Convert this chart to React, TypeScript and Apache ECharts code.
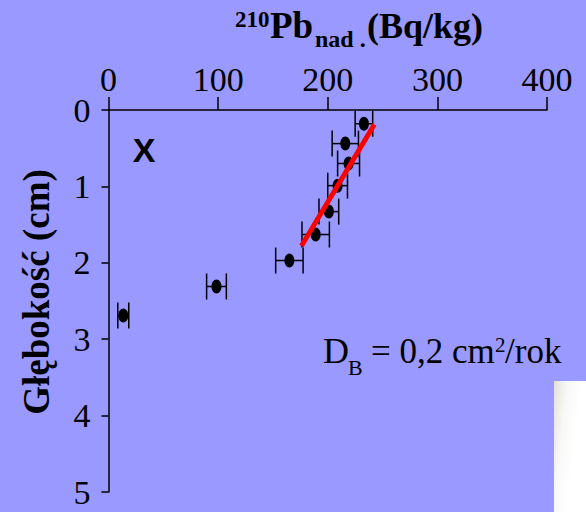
import React, { useEffect, useRef } from "react";
import * as echarts from "echarts";

// Data
const depthCm = [0.18, 0.44, 0.7, 0.99, 1.33, 1.63, 1.97, 2.31, 2.69];
const pbActivity = [233, 216, 219, 209, 201, 189, 165, 98.5, 13.5];
const pbError = [8, 12, 10, 9, 9, 12.5, 12.5, 9, 5];
const fitLine = [
  [176, 1.78],
  [242.5, 0.19],
];
const xTicks = { min: 0, max: 400, interval: 100 };
const yTicks = { min: 0, max: 5, interval: 1 };

const BG = "#9999ff";
const SERIF = "Liberation Serif";

// place a text by its alphabetic baseline (central baseline offset for Liberation Serif)
function txt(text: string, x: number, baseline: number, fontSize: number, bold = false, family = SERIF) {
  return {
    type: "text",
    x,
    y: baseline - 0.34 * fontSize,
    style: {
      text,
      fontFamily: family,
      fontWeight: bold ? "bold" : "normal",
      fontSize,
      fill: "#000",
      align: "left",
      verticalAlign: "middle",
    },
  };
}

export default function App() {
  const ref = useRef<HTMLDivElement>(null);
  useEffect(() => {
    document.body.style.margin = "0";
    if (!ref.current) return;
    const chart = echarts.init(ref.current, undefined, { renderer: "svg" });
    const points = depthCm.map((d, i) => [pbActivity[i], d, pbError[i]]);
    const axisLineStyle = { color: "#000", width: 1.5 };
    chart.setOption({
      animation: false,
      backgroundColor: BG,
      textStyle: { fontFamily: SERIF },
      grid: { left: 108.5, top: 110, width: 438.5, height: 382 },
      xAxis: {
        type: "value",
        position: "top",
        min: xTicks.min,
        max: xTicks.max,
        interval: xTicks.interval,
        axisLine: { show: true, lineStyle: axisLineStyle },
        axisTick: { show: true, length: 13, lineStyle: axisLineStyle },
        axisLabel: { fontSize: 34, color: "#000", margin: 14, fontFamily: SERIF },
        splitLine: { show: false },
      },
      yAxis: {
        type: "value",
        inverse: true,
        min: yTicks.min,
        max: yTicks.max,
        interval: yTicks.interval,
        axisLine: { show: true, onZero: false, lineStyle: axisLineStyle },
        axisTick: { show: true, length: 7, lineStyle: axisLineStyle },
        axisLabel: { fontSize: 34, color: "#000", margin: 18, fontFamily: SERIF },
        splitLine: { show: false },
      },
      series: [
        {
          type: "custom",
          data: points,
          renderItem: (params: any, api: any) => {
            const x = api.value(0);
            const y = api.value(1);
            const e = api.value(2);
            const c = api.coord([x, y]);
            const l = api.coord([x - e, y]);
            const r = api.coord([x + e, y]);
            const cap = 13;
            const ls = { stroke: "#000", lineWidth: 1.5 };
            return {
              type: "group",
              children: [
                { type: "line", shape: { x1: l[0], y1: c[1], x2: r[0], y2: c[1] }, style: ls },
                { type: "line", shape: { x1: l[0], y1: c[1] - cap, x2: l[0], y2: c[1] + cap }, style: ls },
                { type: "line", shape: { x1: r[0], y1: c[1] - cap, x2: r[0], y2: c[1] + cap }, style: ls },
                { type: "ellipse", shape: { cx: c[0], cy: c[1], rx: 5, ry: 7 }, style: { fill: "#000" } },
              ],
            };
          },
          z: 3,
        },
        {
          type: "line",
          data: fitLine,
          showSymbol: false,
          symbol: "none",
          lineStyle: { color: "#ff0000", width: 5 },
          z: 4,
        },
      ],
      graphic: [
        // title
        txt("210", 235, 27, 23, true),
        txt("Pb", 270, 38, 37, true),
        txt("nad .", 315, 47, 24, true),
        txt("(Bq/kg)", 367, 38, 36, true),
        // y axis name
        {
          type: "text",
          x: 36,
          y: 292,
          rotation: Math.PI / 2,
          style: { text: "Głębokość (cm)", fontFamily: SERIF, fontWeight: "bold", fontSize: 37, fill: "#000", align: "center", verticalAlign: "middle" },
        },
        // X label
        {
          type: "text",
          x: 144,
          y: 150,
          style: { text: "X", fontFamily: "Liberation Sans", fontWeight: "bold", fontSize: 34, fill: "#000", align: "center", verticalAlign: "middle" },
        },
        // D_B annotation
        txt("D", 323, 363, 36),
        txt("B", 348, 375, 22),
        txt("= 0,2 cm", 371, 363, 35),
        txt("2", 495, 352, 21),
        txt("/rok", 505, 363, 35),
        // white panel in bottom-right corner
        {
          type: "rect",
          shape: { x: 554, y: 381, width: 40, height: 140 },
          style: {
            fill: new echarts.graphic.LinearGradient(0, 0, 0.6, 0.25, [
              { offset: 0, color: "#e4e0d8" },
              { offset: 0.5, color: "#f8f8f7" },
              { offset: 1, color: "#ffffff" },
            ]),
          },
          z: 10,
        },
      ],
    });
    return () => chart.dispose();
  }, []);
  return <div ref={ref} style={{ width: 586, height: 512, background: BG }} />;
}
